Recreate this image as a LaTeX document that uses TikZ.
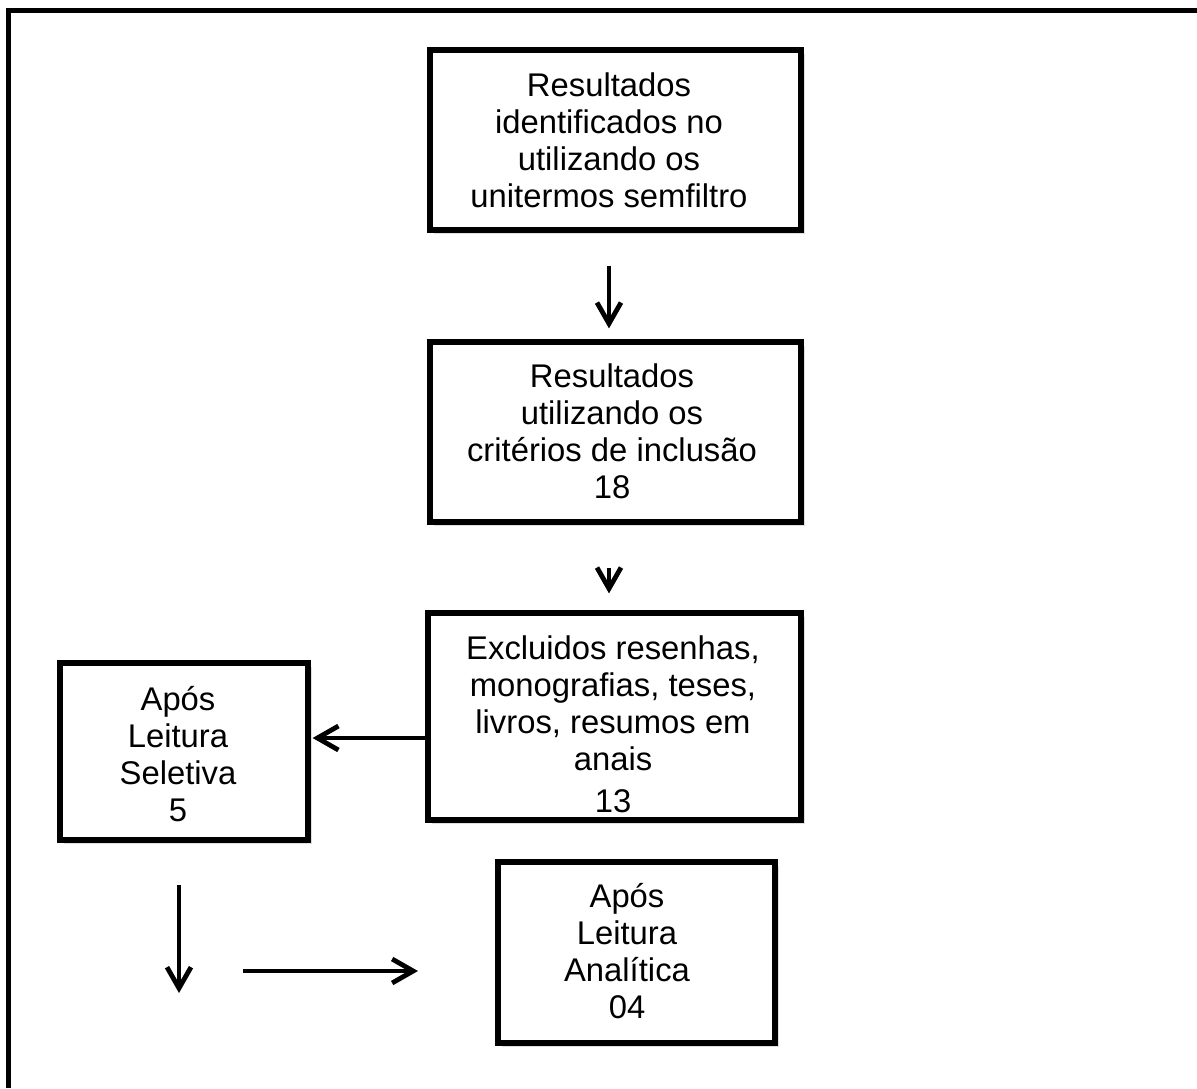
\documentclass[tikz,border=0pt]{standalone}
\usepackage{fontspec}
\setmainfont{Liberation Sans}
\usetikzlibrary{arrows.meta,shadows}
\begin{document}
\begin{tikzpicture}[x=0.5pt,y=-0.5pt,
  box/.style={draw=black, line width=2.6pt, fill=white,
    drop shadow={shadow xshift=2pt, shadow yshift=-2pt, opacity=0.25}, inner sep=0pt},
  txt/.style={align=center, font=\fontsize{16.4}{18.5}\selectfont, inner sep=0pt},
  arr/.style={line width=2.2pt, -{Straight Barb[length=10.5pt, width=12pt, line width=2.4pt]}}]
\useasboundingbox (0,0) rectangle (1197,1088);
\fill[white] (0,0) rectangle (1197,1088);
\draw[line width=2.5pt] (8.5,1088) -- (8.5,10.5) -- (1197,10.5);

\node[box, minimum width=185.5pt, minimum height=90pt] (b1) at (615.5,140) {};
\node[txt] (t1) at (609,140) {Resultados\\identificados no\\utilizando os\\unitermos semfiltro};

\node[box, minimum width=185.5pt, minimum height=90pt] (b2) at (615.5,432) {};
\node[txt] (t2) at (612,431) {Resultados\\utilizando os\\critérios de inclusão\\18};

\node[box, minimum width=186.5pt, minimum height=103.5pt] (b3) at (614.5,716.5) {};
\node[txt] (t3) at (613,724) {Excluidos resenhas,\\monografias, teses,\\livros, resumos em\\anais\\[2.5pt]13};

\node[box, minimum width=124pt, minimum height=88.5pt] (bL) at (184,751.5) {};
\node[txt] (tL) at (178,754) {Após\\Leitura\\Seletiva\\5};

\node[box, minimum width=138.5pt, minimum height=90.5pt] (bB) at (636.5,952.5) {};
\node[txt] (tB) at (627,951) {Após\\Leitura\\Analítica\\04};

\draw[arr] ([xshift=-3.25pt,yshift=-16.5pt]b1.south) -- ([xshift=-3.25pt,yshift=5.5pt]b2.north);
\draw[arr] ([xshift=-3.25pt,yshift=-21.5pt]b2.south) -- ([xshift=-2.75pt,yshift=8.5pt]b3.north);
\draw[arr] ([xshift=3pt,yshift=-10.75pt]b3.west) -- ([xshift=1pt,yshift=6.75pt]bL.east);

\coordinate (a4s) at (179,885);
\coordinate (a4e) at (179,993);
\coordinate (a5s) at (243,971);
\coordinate (a5e) at (418,971);
\draw[arr] (a4s) -- (a4e);
\draw[arr] (a5s) -- (a5e);
\end{tikzpicture}
\end{document}
